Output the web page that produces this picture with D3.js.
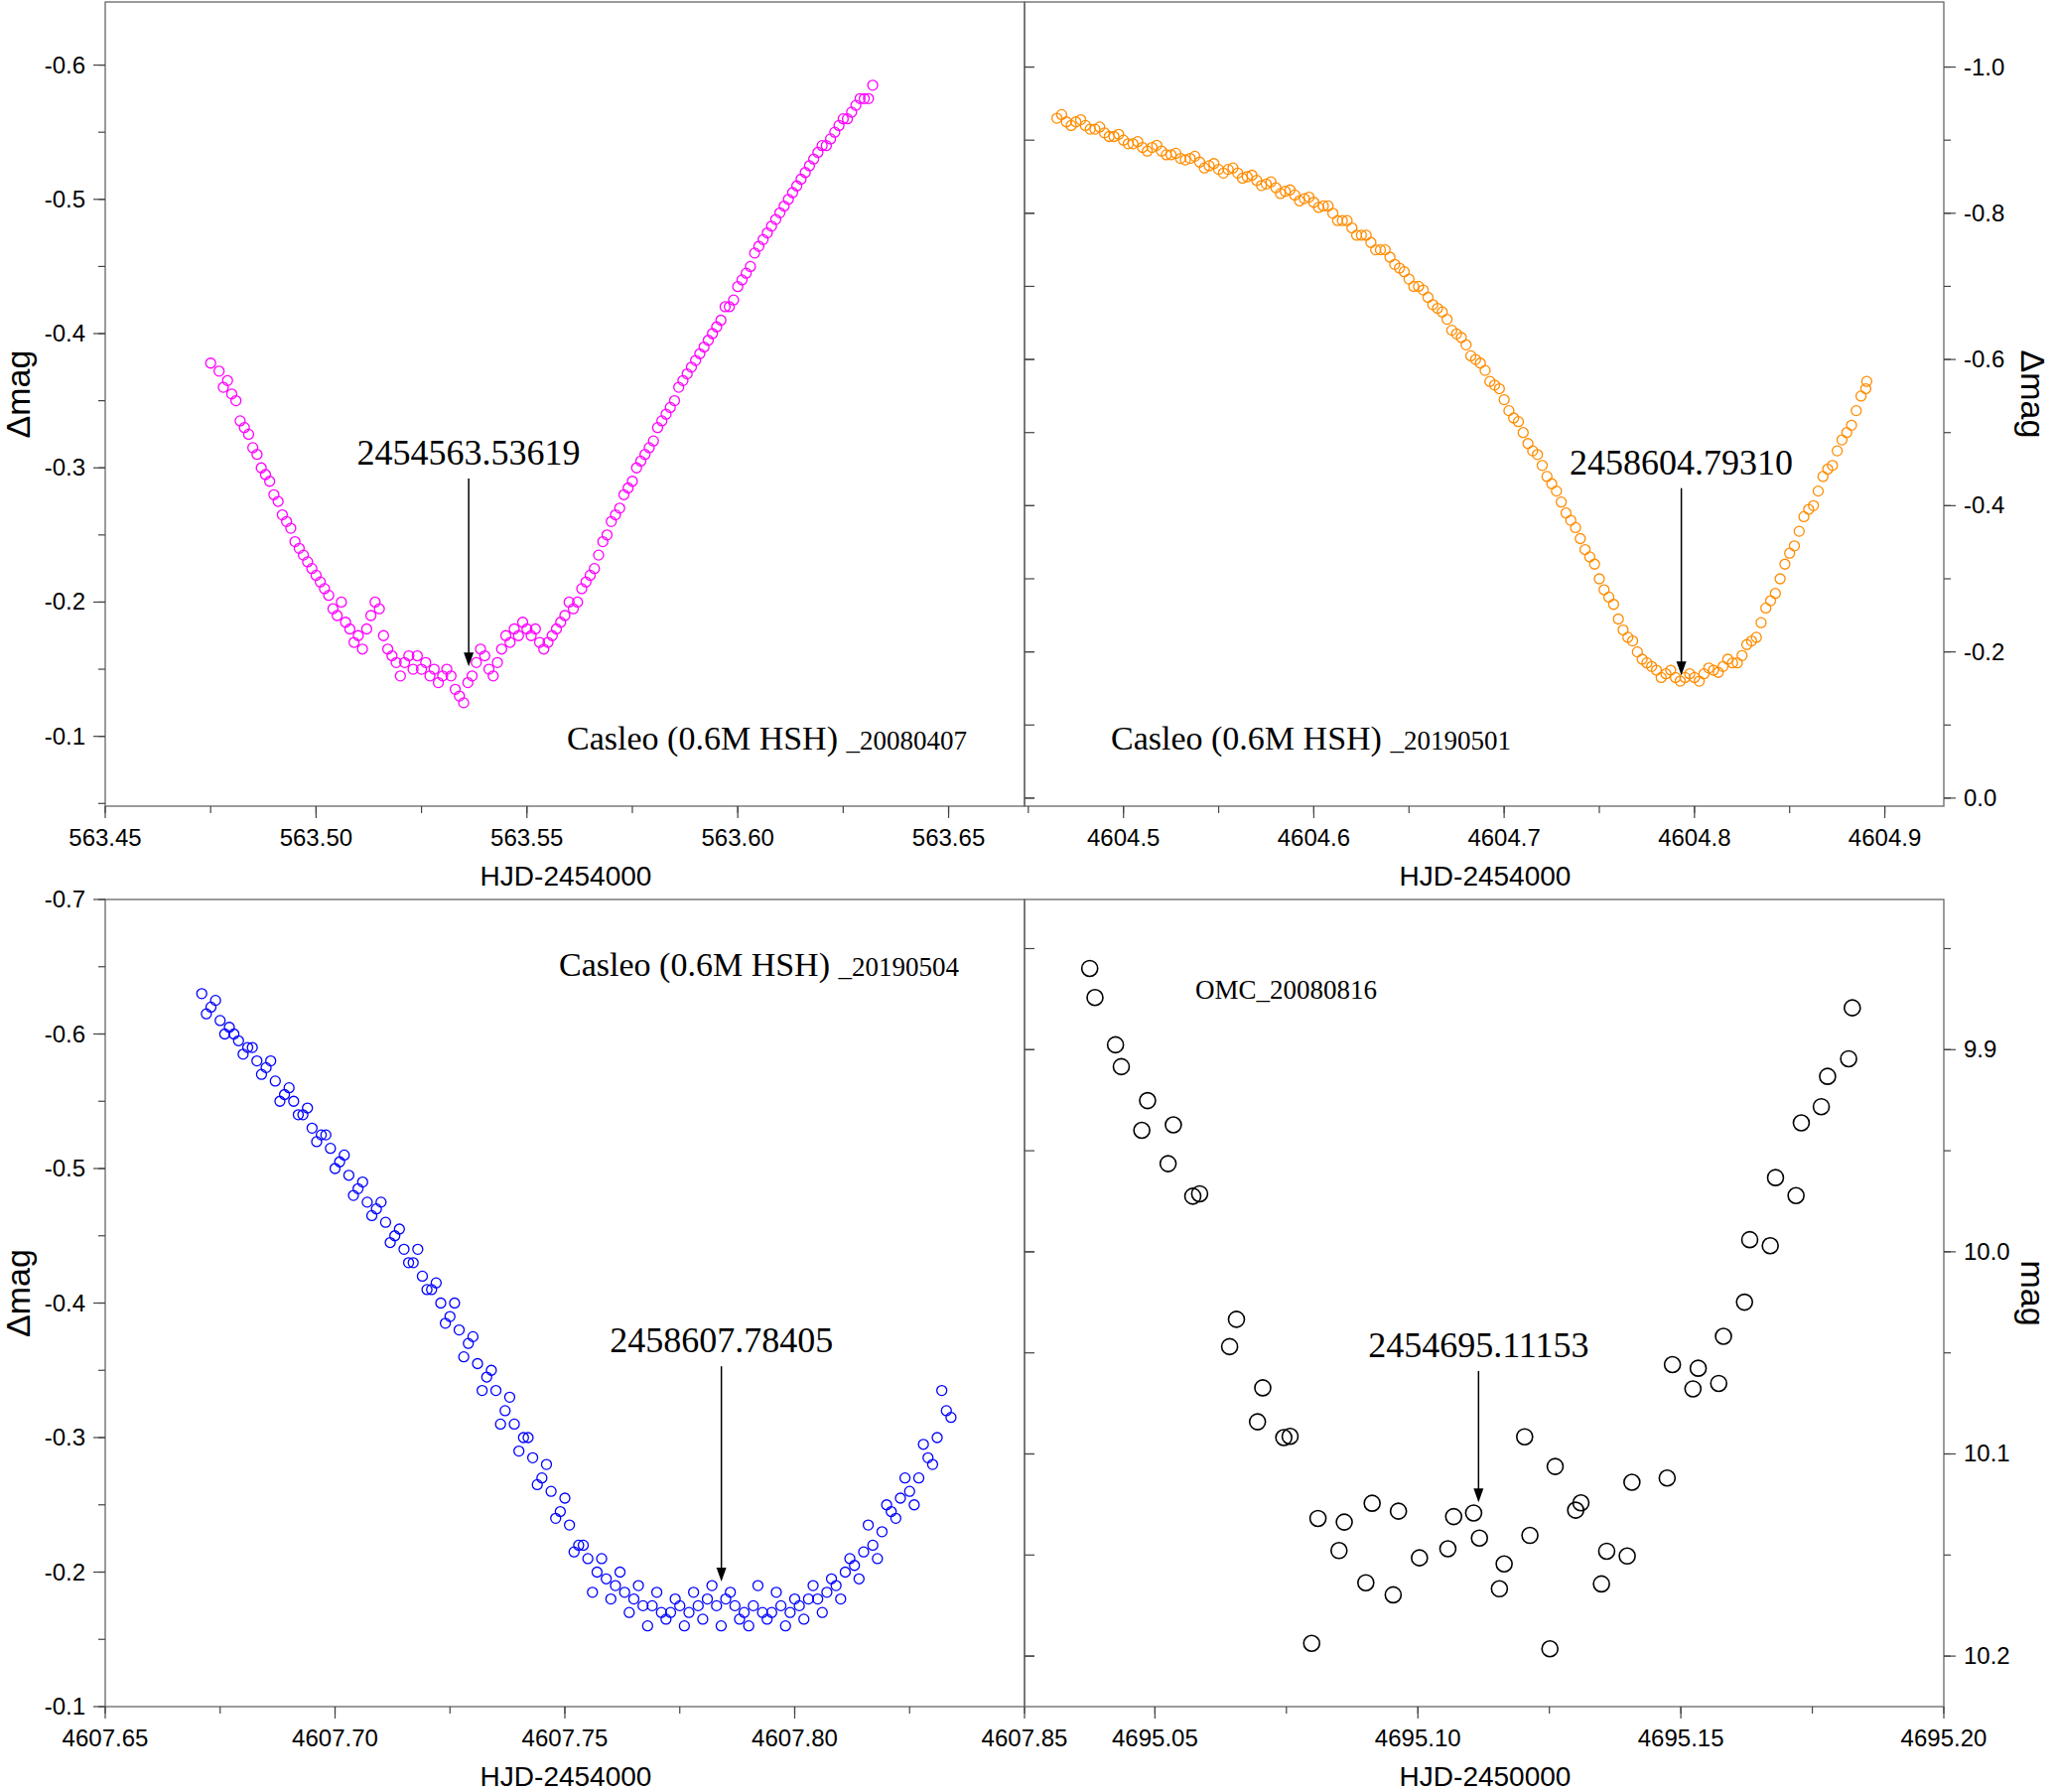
<!DOCTYPE html>
<html><head><meta charset="utf-8">
<script src="https://cdn.jsdelivr.net/npm/d3@7"></script>
<style>body{margin:0;background:#fff}svg text{font-family:"Liberation Sans",Arial,sans-serif}</style>
</head><body>
<script>
// Casleo 20080407 (magenta)
var casleo1 = [[563.475,-.378],[563.477,-.372],[563.478,-.36],[563.479,-.365],[563.480,-.355],[563.481,-.35],[563.482,-.335],[563.483,-.33],[563.484,-.325],[563.485,-.315],[563.486,-.31],[563.487,-.30],[563.488,-.295],[563.489,-.29],[563.490,-.28],[563.491,-.275],[563.492,-.265],[563.493,-.26],[563.494,-.255],[563.495,-.245],[563.496,-.24],[563.497,-.235],[563.498,-.23],[563.499,-.225],[563.500,-.22],[563.501,-.215],[563.502,-.21],[563.503,-.205],[563.504,-.195],[563.505,-.19],[563.506,-.20],[563.507,-.185],[563.508,-.18],[563.509,-.17],[563.510,-.175],[563.511,-.165],[563.512,-.18],[563.513,-.19],[563.514,-.20],[563.515,-.195],[563.516,-.175],[563.517,-.165],[563.518,-.16],[563.519,-.155],[563.520,-.145],[563.521,-.155],[563.522,-.16],[563.523,-.15],[563.524,-.16],[563.525,-.15],[563.526,-.155],[563.527,-.145],[563.528,-.15],[563.529,-.14],[563.530,-.145],[563.531,-.15],[563.532,-.145],[563.533,-.135],[563.534,-.13],[563.535,-.125],[563.536,-.14],[563.537,-.145],[563.538,-.155],[563.539,-.165],[563.540,-.16],[563.541,-.15],[563.542,-.145],[563.543,-.155],[563.544,-.165],[563.545,-.175],[563.546,-.17],[563.547,-.18],[563.548,-.175],[563.549,-.185],[563.550,-.18],[563.551,-.175],[563.552,-.18],[563.553,-.17],[563.554,-.165],[563.555,-.17],[563.556,-.175],[563.557,-.18],[563.558,-.185],[563.559,-.19],[563.560,-.20],[563.561,-.195],[563.562,-.20],[563.563,-.21],[563.564,-.215],[563.565,-.22],[563.566,-.225],[563.567,-.235],[563.568,-.245],[563.569,-.25],[563.570,-.26],[563.571,-.265],[563.572,-.27],[563.573,-.28],[563.574,-.285],[563.575,-.29],[563.576,-.30],[563.577,-.305],[563.578,-.31],[563.579,-.315],[563.580,-.32],[563.581,-.33],[563.582,-.335],[563.583,-.34],[563.584,-.345],[563.585,-.35],[563.586,-.36],[563.587,-.365],[563.588,-.37],[563.589,-.375],[563.590,-.38],[563.591,-.385],[563.592,-.39],[563.593,-.395],[563.594,-.40],[563.595,-.405],[563.596,-.41],[563.597,-.42],[563.598,-.42],[563.599,-.425],[563.600,-.435],[563.601,-.44],[563.602,-.445],[563.603,-.45],[563.604,-.46],[563.605,-.465],[563.606,-.47],[563.607,-.475],[563.608,-.48],[563.609,-.485],[563.610,-.49],[563.611,-.495],[563.612,-.50],[563.613,-.505],[563.614,-.51],[563.615,-.515],[563.616,-.52],[563.617,-.525],[563.618,-.53],[563.619,-.535],[563.620,-.54],[563.621,-.54],[563.622,-.545],[563.623,-.55],[563.624,-.555],[563.625,-.56],[563.626,-.56],[563.627,-.565],[563.628,-.57],[563.629,-.575],[563.630,-.575],[563.631,-.575],[563.632,-.585]];

// Casleo 20190501 (orange)
var casleo2 = [[4604.465,-.93],[4604.470,-.925],[4604.475,-.925],[4604.480,-.92],[4604.485,-.915],[4604.490,-.91],[4604.495,-.905],[4604.500,-.90],[4604.505,-.895],[4604.510,-.89],[4604.515,-.89],[4604.520,-.885],[4604.525,-.88],[4604.530,-.875],[4604.535,-.875],[4604.540,-.87],[4604.545,-.865],[4604.550,-.86],[4604.555,-.86],[4604.560,-.855],[4604.565,-.85],[4604.570,-.845],[4604.575,-.84],[4604.580,-.835],[4604.585,-.83],[4604.590,-.825],[4604.595,-.82],[4604.600,-.815],[4604.605,-.81],[4604.610,-.80],[4604.615,-.79],[4604.620,-.78],[4604.625,-.77],[4604.630,-.76],[4604.635,-.75],[4604.640,-.74],[4604.645,-.725],[4604.650,-.71],[4604.655,-.70],[4604.660,-.685],[4604.665,-.67],[4604.670,-.655],[4604.675,-.635],[4604.680,-.62],[4604.685,-.60],[4604.690,-.585],[4604.695,-.565],[4604.700,-.545],[4604.705,-.52],[4604.710,-.50],[4604.715,-.475],[4604.720,-.455],[4604.725,-.43],[4604.730,-.405],[4604.735,-.38],[4604.740,-.355],[4604.745,-.33],[4604.750,-.30],[4604.755,-.275],[4604.760,-.245],[4604.765,-.22],[4604.770,-.20],[4604.775,-.185],[4604.780,-.175],[4604.785,-.17],[4604.790,-.165],[4604.795,-.165],[4604.800,-.165],[4604.805,-.17],[4604.810,-.175],[4604.815,-.18],[4604.820,-.185],[4604.825,-.195],[4604.830,-.215],[4604.835,-.24],[4604.840,-.27],[4604.845,-.30],[4604.850,-.335],[4604.855,-.365],[4604.860,-.395],[4604.865,-.42],[4604.870,-.45],[4604.875,-.475],[4604.880,-.50],[4604.885,-.53],[4604.890,-.56],
    [4604.4675,-.935],[4604.4725,-.92],[4604.4775,-.928],[4604.4825,-.915],[4604.4875,-.918],[4604.4925,-.905],[4604.4975,-.908],[4604.5025,-.895],[4604.5075,-.898],[4604.5125,-.885],[4604.5175,-.893],[4604.5225,-.88],[4604.5275,-.882],[4604.5325,-.873],[4604.5375,-.878],[4604.5425,-.862],[4604.5475,-.868],[4604.5525,-.855],[4604.5575,-.862],[4604.5625,-.848],[4604.5675,-.852],[4604.5725,-.838],[4604.5775,-.843],[4604.5825,-.827],[4604.5875,-.832],[4604.5925,-.817],[4604.5975,-.822],[4604.6025,-.808],[4604.6075,-.81],[4604.6125,-.79],[4604.6175,-.79],[4604.6225,-.77],[4604.6275,-.77],[4604.6325,-.75],[4604.6375,-.75],[4604.6425,-.73],[4604.6475,-.72],[4604.6525,-.70],[4604.6575,-.695],[4604.6625,-.675],[4604.6675,-.665],[4604.6725,-.64],[4604.6775,-.63],[4604.6825,-.605],[4604.6875,-.595],[4604.6925,-.57],[4604.6975,-.56],[4604.7025,-.53],[4604.7075,-.515],[4604.7125,-.485],[4604.7175,-.47],[4604.7225,-.44],[4604.7275,-.42],[4604.7325,-.39],[4604.7375,-.37],[4604.7425,-.34],[4604.7475,-.32],[4604.7525,-.285],[4604.7575,-.265],[4604.7625,-.23],[4604.7675,-.215],[4604.7725,-.19],[4604.7775,-.18],[4604.7825,-.165],[4604.7875,-.175],[4604.7925,-.16],[4604.7975,-.17],[4604.8025,-.16],[4604.8075,-.178],[4604.8125,-.172],[4604.8175,-.19],[4604.8225,-.185],[4604.8275,-.21],[4604.8325,-.22],[4604.8375,-.26],[4604.8425,-.28],[4604.8475,-.32],[4604.8525,-.345],[4604.8575,-.385],[4604.8625,-.40],[4604.8675,-.44],[4604.8725,-.455],[4604.8775,-.49],[4604.8825,-.51],[4604.8875,-.55],[4604.8905,-.57]];

// Casleo 20190504 (blue)
var casleo3 = [[4607.671,-.63],[4607.673,-.62],[4607.675,-.61],[4607.677,-.605],[4607.679,-.595],[4607.681,-.59],[4607.683,-.58],[4607.685,-.575],[4607.687,-.565],[4607.689,-.555],[4607.691,-.55],[4607.693,-.54],[4607.695,-.53],[4607.697,-.525],[4607.699,-.515],[4607.701,-.505],[4607.703,-.495],[4607.705,-.485],[4607.707,-.475],[4607.709,-.47],[4607.711,-.46],[4607.713,-.45],[4607.715,-.44],[4607.717,-.43],[4607.719,-.42],[4607.721,-.41],[4607.723,-.40],[4607.725,-.39],[4607.727,-.38],[4607.729,-.37],[4607.731,-.355],[4607.733,-.345],[4607.735,-.335],[4607.737,-.32],[4607.739,-.31],[4607.741,-.30],[4607.743,-.285],[4607.745,-.27],[4607.747,-.26],[4607.749,-.245],[4607.751,-.235],[4607.753,-.22],[4607.755,-.21],[4607.757,-.20],[4607.759,-.195],[4607.761,-.19],[4607.763,-.185],[4607.765,-.18],[4607.767,-.175],[4607.769,-.175],[4607.771,-.17],[4607.773,-.17],[4607.775,-.175],[4607.777,-.17],[4607.779,-.175],[4607.781,-.18],[4607.783,-.175],[4607.785,-.18],[4607.787,-.175],[4607.789,-.17],[4607.791,-.175],[4607.793,-.17],[4607.795,-.17],[4607.797,-.175],[4607.799,-.17],[4607.801,-.175],[4607.803,-.18],[4607.805,-.18],[4607.807,-.185],[4607.809,-.19],[4607.811,-.20],[4607.813,-.205],[4607.815,-.215],[4607.817,-.22],[4607.819,-.23],[4607.821,-.245],[4607.823,-.255],[4607.825,-.26],[4607.827,-.27],[4607.829,-.285],[4607.831,-.30],[4607.833,-.32],
    [4607.672,-.615],[4607.674,-.625],[4607.676,-.60],[4607.678,-.60],[4607.680,-.585],[4607.682,-.59],[4607.684,-.57],[4607.686,-.58],[4607.688,-.55],[4607.690,-.56],[4607.692,-.54],[4607.694,-.545],[4607.696,-.52],[4607.698,-.525],[4607.700,-.50],[4607.702,-.51],[4607.704,-.48],[4607.706,-.49],[4607.708,-.465],[4607.710,-.475],[4607.712,-.445],[4607.714,-.455],[4607.716,-.43],[4607.718,-.44],[4607.720,-.41],[4607.722,-.415],[4607.724,-.385],[4607.726,-.40],[4607.728,-.36],[4607.730,-.375],[4607.732,-.335],[4607.734,-.35],[4607.736,-.31],[4607.738,-.33],[4607.740,-.29],[4607.742,-.30],[4607.744,-.265],[4607.746,-.28],[4607.748,-.24],[4607.750,-.255],[4607.752,-.215],[4607.754,-.22],[4607.756,-.185],[4607.758,-.21],[4607.760,-.18],[4607.762,-.20],[4607.764,-.17],[4607.766,-.19],[4607.768,-.16],[4607.770,-.185],[4607.772,-.165],[4607.774,-.18],[4607.776,-.16],[4607.778,-.185],[4607.780,-.165],[4607.782,-.19],[4607.784,-.16],[4607.786,-.185],[4607.788,-.165],[4607.790,-.16],[4607.792,-.19],[4607.794,-.165],[4607.796,-.185],[4607.798,-.16],[4607.800,-.18],[4607.802,-.165],[4607.804,-.19],[4607.806,-.17],[4607.808,-.195],[4607.810,-.18],[4607.812,-.21],[4607.814,-.195],[4607.816,-.235],[4607.818,-.21],[4607.820,-.25],[4607.822,-.24],[4607.824,-.27],[4607.826,-.25],[4607.828,-.295],[4607.830,-.28],[4607.832,-.335],[4607.834,-.315]];

// OMC 20080816 (black)
var omc = [[4695.0376,9.8598],[4695.0386,9.8742],[4695.0425,9.8976],[4695.0436,9.9084],[4695.0486,9.9252],[4695.0475,9.9399],[4695.0535,9.9372],[4695.0525,9.9564],[4695.0572,9.9725],[4695.0585,9.9713],[4695.0655,10.0334],[4695.0642,10.0469],[4695.0705,10.0673],[4695.0695,10.0841],[4695.0745,10.0919],[4695.0757,10.0913],[4695.0798,10.1937],[4695.0810,10.1319],[4695.0850,10.1478],[4695.0860,10.1337],[4695.0901,10.1637],[4695.0913,10.1244],[4695.0953,10.1697],[4695.0963,10.1283],[4695.1003,10.1514],[4695.1057,10.1469],[4695.1068,10.1310],[4695.1106,10.1292],[4695.1117,10.1416],[4695.1155,10.1667],[4695.1164,10.1544],[4695.1203,10.0915],[4695.1213,10.1403],[4695.1251,10.1964],[4695.1261,10.1062],[4695.1300,10.1278],[4695.1310,10.1242],[4695.1349,10.1643],[4695.1359,10.1481],[4695.1398,10.1505],[4695.1407,10.1140],[4695.1474,10.1119],[4695.1484,10.0558],[4695.1523,10.0678],[4695.1533,10.0576],[4695.1572,10.0651],[4695.1581,10.0418],[4695.1621,10.0249],[4695.1631,9.9940],[4695.1670,9.9970],[4695.1680,9.9633],[4695.1719,9.9722],[4695.1729,9.9362],[4695.1767,9.9282],[4695.1779,9.9132],[4695.1819,9.9045],[4695.1826,9.8793]];

var minima = ["2454563.53619", "2458604.79310", "2458607.78405", "2454695.11153"];
var minimaX = [563.53619, 4604.79310, 4607.78405, 4695.11153];
var labels = ["Casleo (0.6M HSH) _20080407", "Casleo (0.6M HSH) _20190501", "Casleo (0.6M HSH) _20190504", "OMC_20080816"];

var svg = d3.select("body").append("svg").attr("width", 2070).attr("height", 1805);
var fmt = function(f) { return function(d) { return d3.format(f)(d).replace("\u2212", "-"); }; };

var panels = [
    {data: casleo1, color: "#ff00ff", x0: 106, x1: 1032, y0: 2, y1: 812, xd: [563.45, 563.668], yd: [-0.048, -0.647],
     xt: [563.45, 563.50, 563.55, 563.60, 563.65], xf: ".2f", xm: 0.025, yt: [-0.6, -0.5, -0.4, -0.3, -0.2, -0.1], yf: ".1f", ym: 0.05, side: "left",
     xlab: "HJD-2454000", ylab: "\u0394mag", arrow: [-0.292, -0.152], lab: {x: 974, y: 755, anchor: "end"}},
    {data: casleo2, color: "#ff8c00", x0: 1032, x1: 1958, y0: 2, y1: 812, xd: [4604.448, 4604.931], yd: [0.011, -1.089],
     xt: [4604.5, 4604.6, 4604.7, 4604.8, 4604.9], xf: ".1f", xm: 0.05, yt: [-1.0, -0.8, -0.6, -0.4, -0.2, 0.0], yf: ".1f", ym: 0.1, side: "right",
     xlab: "HJD-2454000", ylab: "\u0394mag", arrow: [-0.424, -0.168], lab: {x: 1119, y: 755, anchor: "start"}},
    {data: casleo3, color: "#0000ff", x0: 106, x1: 1032, y0: 906, y1: 1719, xd: [4607.65, 4607.85], yd: [-0.1, -0.7],
     xt: [4607.65, 4607.70, 4607.75, 4607.80, 4607.85], xf: ".2f", xm: 0.025, yt: [-0.7, -0.6, -0.5, -0.4, -0.3, -0.2, -0.1], yf: ".1f", ym: 0.05, side: "left",
     xlab: "HJD-2454000", ylab: "\u0394mag", arrow: [-0.353, -0.193], lab: {x: 966, y: 983, anchor: "end"}},
    {data: omc, color: "#000", x0: 1032, x1: 1958, y0: 906, y1: 1719, xd: [4695.0252, 4695.20], yd: [10.225, 9.8257],
     xt: [4695.05, 4695.10, 4695.15, 4695.20], xf: ".2f", xm: 0.025, yt: [9.9, 10.0, 10.1, 10.2], yf: ".1f", ym: 0.05, side: "right",
     xlab: "HJD-2450000", ylab: "mag", arrow: [10.059, 10.124], lab: {x: 1204, y: 1006, anchor: "start", small: true}, big: true}
];

panels.forEach(function(p, i) {
    var x = d3.scaleLinear().domain(p.xd).range([p.x0, p.x1]);
    var y = d3.scaleLinear().domain(p.yd).range([p.y1, p.y0]);
    var g = svg.append("g");

    g.append("rect").attr("x", p.x0).attr("y", p.y0).attr("width", p.x1 - p.x0).attr("height", p.y1 - p.y0)
        .attr("fill", "none").attr("stroke", "#666").attr("stroke-width", 1.3);

    // x ticks (outward), minor ticks in between
    var xminor = d3.range(Math.ceil(p.xd[0] / p.xm - 1e-6) * p.xm, p.xd[1] + 1e-9, p.xm);
    g.selectAll(".xm").data(xminor).enter().append("line")
        .attr("x1", d => x(d)).attr("x2", d => x(d)).attr("y1", p.y1).attr("y2", p.y1 + 7)
        .attr("stroke", "#444").attr("stroke-width", 1.2);
    g.selectAll(".xt").data(p.xt).enter().append("line")
        .attr("x1", d => x(d)).attr("x2", d => x(d)).attr("y1", p.y1).attr("y2", p.y1 + 12)
        .attr("stroke", "#444").attr("stroke-width", 1.2);
    g.selectAll(".xl").data(p.xt).enter().append("text")
        .attr("x", d => x(d)).attr("y", p.y1 + 40).attr("text-anchor", "middle")
        .attr("font-size", 24).text(fmt(p.xf));
    g.append("text").attr("x", (p.x0 + p.x1) / 2 + 1).attr("y", p.y1 + 80).attr("text-anchor", "middle")
        .attr("font-size", 28).text(p.xlab);

    // y ticks
    var yminor = d3.range(Math.ceil(Math.min(p.yd[0], p.yd[1]) / p.ym - 1e-6) * p.ym, Math.max(p.yd[0], p.yd[1]), p.ym);
    var ax = p.side == "left" ? p.x0 : p.x1, dir = p.side == "left" ? -1 : 1;
    g.selectAll(".ym").data(yminor).enter().append("line")
        .attr("x1", ax).attr("x2", ax + dir * 7).attr("y1", d => y(d)).attr("y2", d => y(d))
        .attr("stroke", "#444").attr("stroke-width", 1.2);
    g.selectAll(".yt").data(p.yt).enter().append("line")
        .attr("x1", ax).attr("x2", ax + dir * 12).attr("y1", d => y(d)).attr("y2", d => y(d))
        .attr("stroke", "#444").attr("stroke-width", 1.2);
    if (p.side == "right") {
        // unlabelled inward ticks on the shared left edge
        g.selectAll(".yi").data(p.yt.concat(yminor)).enter().append("line")
            .attr("x1", p.x0).attr("x2", p.x0 + 10).attr("y1", d => y(d)).attr("y2", d => y(d))
            .attr("stroke", "#444").attr("stroke-width", 1.2);
    }
    g.selectAll(".yl").data(p.yt).enter().append("text")
        .attr("x", ax + dir * 20).attr("y", d => y(d) + 8)
        .attr("text-anchor", p.side == "left" ? "end" : "start")
        .attr("font-size", 24).text(fmt(p.yf));
    var lx = p.side == "left" ? 30 : 2036;
    g.append("text").attr("transform", "translate(" + lx + "," + ((p.y0 + p.y1) / 2 - 10) + ") rotate(" + (p.side == "left" ? -90 : 90) + ")")
        .attr("text-anchor", "middle").attr("font-size", 34).text(p.ylab);

    // points
    g.selectAll(".pt").data(p.data).enter().append("circle")
        .attr("cx", d => x(d[0])).attr("cy", d => y(d[1])).attr("r", p.big ? 8 : 5)
        .attr("fill", "none").attr("stroke", p.color).attr("stroke-width", p.big ? 1.6 : 1.3);

    // minimum arrow
    var axp = x(minimaX[i]);
    g.append("line").attr("x1", axp).attr("x2", axp).attr("y1", y(p.arrow[0])).attr("y2", y(p.arrow[1]) - 10)
        .attr("stroke", "#000").attr("stroke-width", 1.5);
    g.append("path").attr("d", "M" + (axp - 5) + "," + (y(p.arrow[1]) - 14) + "L" + (axp + 5) + "," + (y(p.arrow[1]) - 14) + "L" + axp + "," + y(p.arrow[1]) + "Z")
        .attr("fill", "#000");
    g.append("text").attr("x", axp).attr("y", y(p.arrow[0]) - 14).attr("text-anchor", "middle")
        .attr("font-size", 36).style("font-family", "'Liberation Serif',serif").text(minima[i]);

    // dataset label
    var t = g.append("text").attr("x", p.lab.x).attr("y", p.lab.y).attr("text-anchor", p.lab.anchor)
        .style("font-family", "'Liberation Serif',serif").attr("font-size", p.lab.small ? 27 : 34);
    if (p.lab.small) {
        t.text(labels[i]);
    } else {
        var parts = labels[i].split(" _");
        t.append("tspan").text(parts[0] + " ");
        t.append("tspan").attr("font-size", 27).text("_" + parts[1]);
    }
});
</script>
</body></html>
